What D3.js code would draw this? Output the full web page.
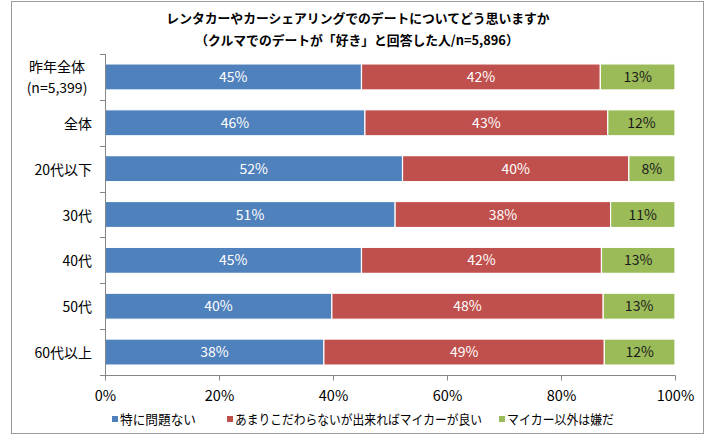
<!DOCTYPE html>
<html>
<head>
<meta charset="utf-8">
<script src="https://cdn.jsdelivr.net/npm/d3@7"></script>
<style>
  html, body { margin: 0; padding: 0; background: #fff; }
  svg { display: block; }
  text { font-family: "Noto Sans CJK JP", "Noto Sans", sans-serif; }
</style>
</head>
<body>
<svg id="chart" width="711" height="444"></svg>
<script>
// ---- data ----
const categories = ["昨年全体\n(n=5,399)", "全体", "20代以下", "30代", "40代", "50代", "60代以上"];
const seriesNames = ["特に問題ない", "あまりこだわらないが出来ればマイカーが良い", "マイカー以外は嫌だ"];
const seriesNoProblem = [45.0, 45.6, 52.2, 50.9, 45.0, 39.8, 38.4];
const seriesPreferOwn = [41.9, 42.6, 39.7, 37.8, 42.1, 47.6, 49.2];
const seriesOnlyOwn   = [13.1, 11.8, 8.1, 11.3, 12.9, 12.6, 12.4];
const xTicks = [0, 20, 40, 60, 80, 100];
const titleLines = ["レンタカーやカーシェアリングでのデートについてどう思いますか", "（クルマでのデートが「好き」と回答した人/n=5,896）"];

const colors = ["#4F81BD", "#C0504D", "#9BBB59"];
const labelColors = ["#ffffff", "#ffffff", "#1a1a1a"];

const svg = d3.select("#chart");

// outer frame
svg.append("rect")
  .attr("x", 11.5).attr("y", 1.5).attr("width", 692).attr("height", 432)
  .attr("fill", "#fff").attr("stroke", "#9a9a9a").attr("stroke-width", 1);

// title
svg.append("text").attr("x", 358).attr("y", 23)
  .attr("text-anchor", "middle").attr("font-size", 12.8).attr("font-weight", "bold")
  .attr("fill", "#000").text(titleLines[0]);
svg.append("text").attr("x", 357).attr("y", 45)
  .attr("text-anchor", "middle").attr("font-size", 12.8).attr("font-weight", "bold")
  .attr("fill", "#000").text(titleLines[1]);

const x = d3.scaleLinear().domain([0, 100]).range([105, 675]);
const y = d3.scaleBand().domain(categories).range([54, 375]).paddingInner(0.433).paddingOuter(0.2165);

const rows = categories.map((c, i) => {
  const vals = [seriesNoProblem[i], seriesPreferOwn[i], seriesOnlyOwn[i]];
  let acc = 0;
  return vals.map((v, k) => { const s = acc; acc += v; return { cat: c, k, v, x0: s, x1: acc }; });
});

const g = svg.append("g");
rows.forEach(segs => {
  segs.forEach(s => {
    g.append("rect")
      .attr("x", x(s.x0)).attr("y", y(s.cat))
      .attr("width", x(s.x1) - x(s.x0)).attr("height", y.bandwidth())
      .attr("fill", colors[s.k]).attr("stroke", "#ffffff").attr("stroke-width", 1.2);
    g.append("text")
      .attr("x", (x(s.x0) + x(s.x1)) / 2).attr("y", y(s.cat) + y.bandwidth() / 2 + 5)
      .attr("text-anchor", "middle").attr("font-size", 14)
      .attr("fill", labelColors[s.k]).text(d3.format(".0f")(s.v) + "%");
  });
});

// y axis
const axisColor = "#868686";
svg.append("line").attr("x1", 105.5).attr("x2", 105.5).attr("y1", 54).attr("y2", 375)
  .attr("stroke", axisColor);
const bounds = d3.range(categories.length + 1).map(i => 54 + i * y.step());
bounds.forEach(b => {
  svg.append("line").attr("x1", 100).attr("x2", 105.5).attr("y1", Math.round(b) + 0.5).attr("y2", Math.round(b) + 0.5)
    .attr("stroke", axisColor);
});
categories.forEach(c => {
  const lines = c.split("\n");
  const cy = y(c) + y.bandwidth() / 2;
  if (lines.length === 1) {
    svg.append("text").attr("x", 92).attr("y", cy + 6)
      .attr("text-anchor", "end").attr("font-size", 14).attr("fill", "#000").text(lines[0]);
  } else {
    svg.append("text").attr("x", 57).attr("y", cy - 5)
      .attr("text-anchor", "middle").attr("font-size", 14).attr("fill", "#000").text(lines[0]);
    svg.append("text").attr("x", 57).attr("y", cy + 16)
      .attr("text-anchor", "middle").attr("font-size", 14).attr("fill", "#000").text(lines[1]);
  }
});

// x axis
const xAxis = d3.axisBottom(x).tickValues(xTicks).tickSize(5).tickFormat(d => d + "%");
const xg = svg.append("g").attr("transform", "translate(0,375.5)").call(xAxis);
xg.select(".domain").attr("stroke", axisColor).attr("d", "M100,0H675.5");
xg.selectAll(".tick line").attr("stroke", axisColor);
xg.selectAll(".tick text").attr("font-size", 14.5).attr("fill", "#000").attr("dy", 0).attr("y", 25)
  .attr("font-family", "\"Noto Sans CJK JP\", sans-serif");

// legend
const legendX = [112, 227, 499];
const legendW = [76, 247, 107];
seriesNames.forEach((n, k) => {
  svg.append("rect").attr("x", legendX[k]).attr("y", 416).attr("width", 6).attr("height", 6)
    .attr("fill", colors[k]);
  svg.append("text").attr("x", legendX[k] + 8).attr("y", 424)
    .attr("font-size", 13).attr("fill", "#000")
    .attr("textLength", legendW[k]).attr("lengthAdjust", "spacingAndGlyphs").text(n);
});
</script>
</body>
</html>
